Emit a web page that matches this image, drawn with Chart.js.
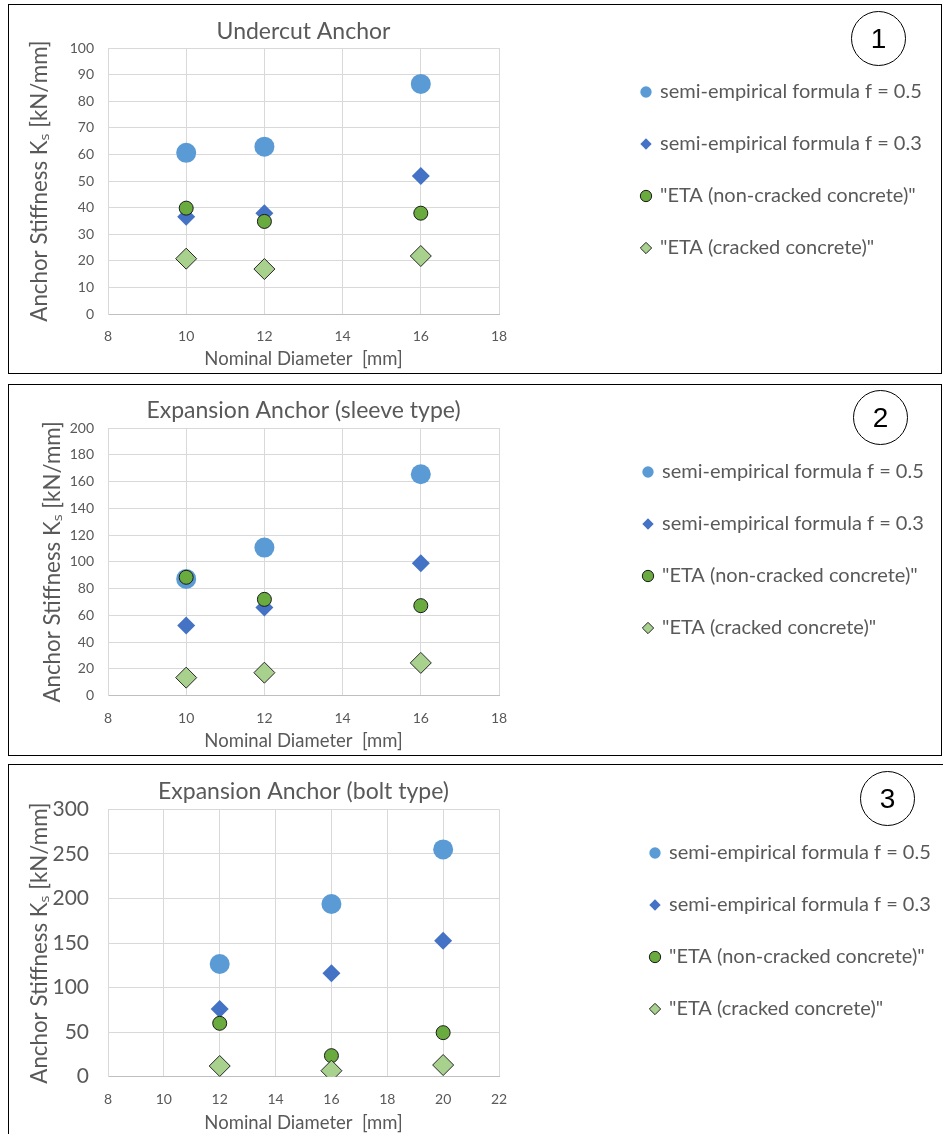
<!DOCTYPE html>
<html>
<head>
<meta charset="utf-8">
<script src="https://cdn.jsdelivr.net/npm/chart.js@4.4.1/dist/chart.umd.min.js"></script>
<style>
body { margin: 0; background: #fff; width: 943px; height: 1134px; overflow: hidden; position: relative; }
.panel { position: absolute; border: 1px solid #000; box-sizing: border-box; background: #fff; }
.panel canvas { position: absolute; left: 0; top: 0; }
.num { position: absolute; width: 55px; height: 55px; border: 1px solid #000; border-radius: 50%; box-sizing: border-box;
       font: 28px "Liberation Sans", Arial, sans-serif; text-align: center; line-height: 53px; color: #000; }
</style>
</head>
<body>
<div class="panel" style="left:8px;top:4px;width:934px;height:370px"><canvas id="c1" width="932" height="368"></canvas></div>
<div class="panel" style="left:8px;top:384px;width:934px;height:372px"><canvas id="c2" width="932" height="370"></canvas></div>
<div class="panel" style="left:8px;top:764px;width:950px;height:380px"><canvas id="c3" width="948" height="378"></canvas></div>
<div class="num" style="left:851px;top:11px">1</div>
<div class="num" style="left:853px;top:390px">2</div>
<div class="num" style="left:860px;top:771px">3</div>

<script>
var FONT = 'Lato, "Open Sans", sans-serif';
var TXT = '#595959';

var seriesNames = ['semi-empirical formula f = 0.5', 'semi-empirical formula f = 0.3',
                   '"ETA (non-cracked concrete)"', '"ETA (cracked concrete)"'];

// 1 - undercut anchor
var undercutDiam = [10, 12, 16];
var undercutF05 = [60.6, 62.9, 86.5];
var undercutF03 = [36.6, 37.9, 51.9];
var undercutEtaNc = [39.8, 34.8, 37.9];
var undercutEtaCr = [20.8, 16.9, 21.8];

// 2 - expansion anchor, sleeve type
var sleeveDiam = [10, 12, 16];
var sleeveF05 = [87.3, 110.7, 165.5];
var sleeveF03 = [52.4, 66, 99];
var sleeveEtaNc = [88.5, 72, 67.3];
var sleeveEtaCr = [13.5, 17.2, 24.5];

// 3 - expansion anchor, bolt type
var boltDiam = [12, 16, 20];
var boltF05 = [126.5, 193.8, 255];
var boltF03 = [76, 116, 152.6];
var boltEtaNc = [59.9, 23.6, 49.4];
var boltEtaCr = [12, 6.7, 13.1];

var LEG_PAD = 32, LEG_BOX = 8, LEG_FONT = 20;

// move the legend to the right side of the panel, off the plot
var legendPlace = {
    id: 'legendPlace',
    afterLayout: function(chart, args, opts) {
        var lg = chart.legend;
        lg.left = opts.x - LEG_PAD - LEG_BOX / 2;
        lg.top = opts.y - LEG_PAD - LEG_FONT / 2;
        lg.right = chart.width;
        lg.bottom = chart.height;
        lg.width = lg.right - lg.left;
        lg.height = lg.bottom - lg.top;
    }
};

function toPts(xs, ys) {
    return xs.map(function(x, i) { return {x: x, y: ys[i]}; });
}

function makeChart(id, o) {
    var canvas = document.getElementById(id);
    var datasets = [
        {label: seriesNames[0], data: toPts(o.x, o.f05), order: 4, pointStyle: 'circle', pointRadius: 10,
         pointBackgroundColor: '#5B9BD5', pointBorderColor: '#5B9BD5', pointBorderWidth: 0},
        {label: seriesNames[1], data: toPts(o.x, o.f03), order: 3, pointStyle: 'rectRot', pointRadius: 9,
         pointBackgroundColor: '#4472C4', pointBorderColor: '#4472C4', pointBorderWidth: 0},
        {label: seriesNames[2], data: toPts(o.x, o.nc), order: 2, pointStyle: 'circle', pointRadius: 7,
         pointBackgroundColor: '#6AAB3F', pointBorderColor: '#1a1a1a', pointBorderWidth: 1},
        {label: seriesNames[3], data: toPts(o.x, o.cr), order: 1, pointStyle: 'rectRot', pointRadius: 10.5,
         pointBackgroundColor: '#A9D18E', pointBorderColor: '#262626', pointBorderWidth: 1}
    ];

    new Chart(canvas, {
        type: 'scatter',
        data: {datasets: datasets},
        options: {
            responsive: false,
            animation: false,
            layout: {padding: {left: 0, top: 0, bottom: 0, right: canvas.width - 490}},
            plugins: {
                title: {
                    display: true, text: o.title, fullSize: false, color: TXT,
                    font: {family: FONT, size: 23, weight: 'normal'},
                    padding: {top: o.tTop, bottom: o.tBottom}
                },
                legend: {
                    position: 'chartArea', align: 'start',
                    labels: {
                        usePointStyle: true, boxWidth: LEG_BOX, boxHeight: LEG_BOX, padding: LEG_PAD,
                        color: TXT, font: {family: FONT, size: LEG_FONT},
                        sort: function(a, b) { return a.datasetIndex - b.datasetIndex; }
                    }
                },
                legendPlace: {x: o.legX, y: o.legY},
                tooltip: {enabled: false}
            },
            scales: {
                x: {
                    type: 'linear', min: o.xMin, max: o.xMax,
                    ticks: {stepSize: 2, padding: 14, color: TXT, font: {family: FONT, size: 14}},
                    grid: {color: '#D9D9D9', drawTicks: false},
                    border: {color: '#BFBFBF'},
                    title: {display: true, text: 'Nominal Diameter  [mm]', color: TXT,
                            font: {family: FONT, size: 18.5}, padding: {top: 0, bottom: o.xtPad}},
                    afterFit: function(s) { s.height = o.xH; }
                },
                y: {
                    type: 'linear', min: 0, max: o.yMax,
                    ticks: {stepSize: o.yStep, padding: o.yPad, color: TXT, font: {family: FONT, size: o.yFont}},
                    grid: {color: '#D9D9D9', drawTicks: false},
                    border: {color: '#D9D9D9'},
                    title: {display: true, text: 'Anchor Stiffness K\u209B [kN/mm]', color: TXT,
                            font: {family: FONT, size: 22.3}, padding: {top: o.ytPad, bottom: 0}},
                    afterFit: function(s) { s.width = 99; }
                }
            }
        },
        plugins: [legendPlace]
    });
}

makeChart('c1', {
    title: 'Undercut Anchor', x: undercutDiam, f05: undercutF05, f03: undercutF03, nc: undercutEtaNc, cr: undercutEtaCr,
    xMin: 8, xMax: 18, yMax: 100, yStep: 10, yFont: 14, yPad: 14,
    tTop: 13, tBottom: 2.4, xH: 59, xtPad: 3, ytPad: 17.5,
    legX: 637, legY: 87
});

makeChart('c2', {
    title: 'Expansion Anchor (sleeve type)', x: sleeveDiam, f05: sleeveF05, f03: sleeveF03, nc: sleeveEtaNc, cr: sleeveEtaCr,
    xMin: 8, xMax: 18, yMax: 200, yStep: 20, yFont: 14, yPad: 14,
    tTop: 11.5, tBottom: 4, xH: 59.3, xtPad: 3, ytPad: 30,
    legX: 639, legY: 87
});

makeChart('c3', {
    title: 'Expansion Anchor (bolt type)', x: boltDiam, f05: boltF05, f03: boltF03, nc: boltEtaNc, cr: boltEtaCr,
    xMin: 8, xMax: 22, yMax: 300, yStep: 50, yFont: 21, yPad: 19,
    tTop: 13, tBottom: 3.7, xH: 66.3, xtPad: 9, ytPad: 17.5,
    legX: 646, legY: 88
});
</script>
</body>
</html>
